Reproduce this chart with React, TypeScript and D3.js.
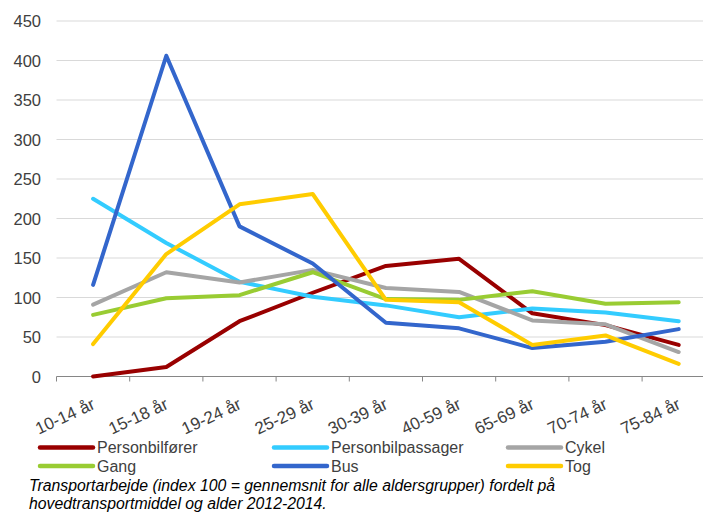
import React from "react";
import * as d3 from "d3";

const categories = ["10-14 år", "15-18 år", "19-24 år", "25-29 år", "30-39 år", "40-59 år", "65-69 år", "70-74 år", "75-84 år"];
const personbilforer = [0, 12, 70, 106, 140, 149, 80, 65, 40];
const personbilpassager = [225, 169, 120, 101, 90, 75, 86, 81, 70];
const cykel = [91, 132, 119, 135, 112, 107, 71, 66, 31];
const gang = [78, 99, 103, 132, 98, 97, 108, 92, 94];
const bus = [116, 406, 190, 143, 68, 61, 36, 44, 60];
const tog = [41, 155, 218, 231, 97, 94, 40, 52, 16];
const yTicks = [0, 50, 100, 150, 200, 250, 300, 350, 400, 450];

const series = [
  { name: "Personbilfører", values: personbilforer, color: "#990000" },
  { name: "Personbilpassager", values: personbilpassager, color: "#33CCFF" },
  { name: "Cykel", values: cykel, color: "#A5A5A5" },
  { name: "Gang", values: gang, color: "#99CC33" },
  { name: "Bus", values: bus, color: "#3366CC" },
  { name: "Tog", values: tog, color: "#FFCC00" },
];

const W = 703;
const H = 514;
const plotLeft = 56.5;
const step = 73.2;
const plotRight = plotLeft + step * categories.length;

export default function App() {
  const x = d3.scaleBand<string>().domain(categories).range([plotLeft, plotRight]).padding(0);
  const y = d3.scaleLinear().domain([0, 450]).range([376.5, 21]);
  const cx = (c: string) => (x(c) as number) + x.bandwidth() / 2;
  const line = d3
    .line<number>()
    .x((_, i) => cx(categories[i]))
    .y((v) => y(v));

  const font = "'Liberation Sans', Arial, sans-serif";
  const legendCols = [39, 273, 507];
  const legendRows = [447.5, 466];

  return (
    <svg width={W} height={H} style={{ position: "absolute", left: 0, top: 0, background: "#fff" }} fontFamily={font}>
      {yTicks.filter((t) => t > 0).map((t) => (
        <line key={t} x1={plotLeft} x2={W} y1={y(t)} y2={y(t)} stroke="#D9D9D9" strokeWidth={1} />
      ))}
      {yTicks.map((t) => (
        <text key={t} x={41} y={y(t) + 6} textAnchor="end" fontSize={16.5} fill="#404040">
          {t}
        </text>
      ))}
      <line x1={plotLeft} x2={W} y1={y(0)} y2={y(0)} stroke="#868686" strokeWidth={1} />
      {d3.range(categories.length + 1).map((i) => {
        const xx = plotLeft + i * x.step();
        return <line key={i} x1={xx} x2={xx} y1={y(0)} y2={y(0) + 5} stroke="#868686" strokeWidth={1} />;
      })}
      {categories.map((c) => {
        const ax = cx(c) + 3;
        const ay = 408;
        return (
          <text key={c} x={ax} y={ay} textAnchor="end" fontSize={17} fill="#404040" transform={`rotate(-25 ${ax} ${ay})`}>
            {c}
          </text>
        );
      })}
      {series.map((s) => (
        <path key={s.name} d={line(s.values) || ""} fill="none" stroke={s.color} strokeWidth={4} strokeLinejoin="round" strokeLinecap="round" />
      ))}
      {series.map((s, i) => {
        const col = i % 3;
        const row = Math.floor(i / 3);
        const lx = legendCols[col];
        const ly = legendRows[row];
        return (
          <g key={s.name}>
            <line x1={lx + 1} x2={lx + 54} y1={ly} y2={ly} stroke={s.color} strokeWidth={4.5} strokeLinecap="round" />
            <text x={lx + 58} y={ly + 5.5} fontSize={16} fill="#404040">
              {s.name}
            </text>
          </g>
        );
      })}
      <text x={29} y={491} fontSize={15.8} fontStyle="italic" fill="#000">
        Transportarbejde (index 100 = gennemsnit for alle aldersgrupper) fordelt på
      </text>
      <text x={29} y={509} fontSize={15.8} fontStyle="italic" fill="#000">
        hovedtransportmiddel og alder 2012-2014.
      </text>
    </svg>
  );
}
